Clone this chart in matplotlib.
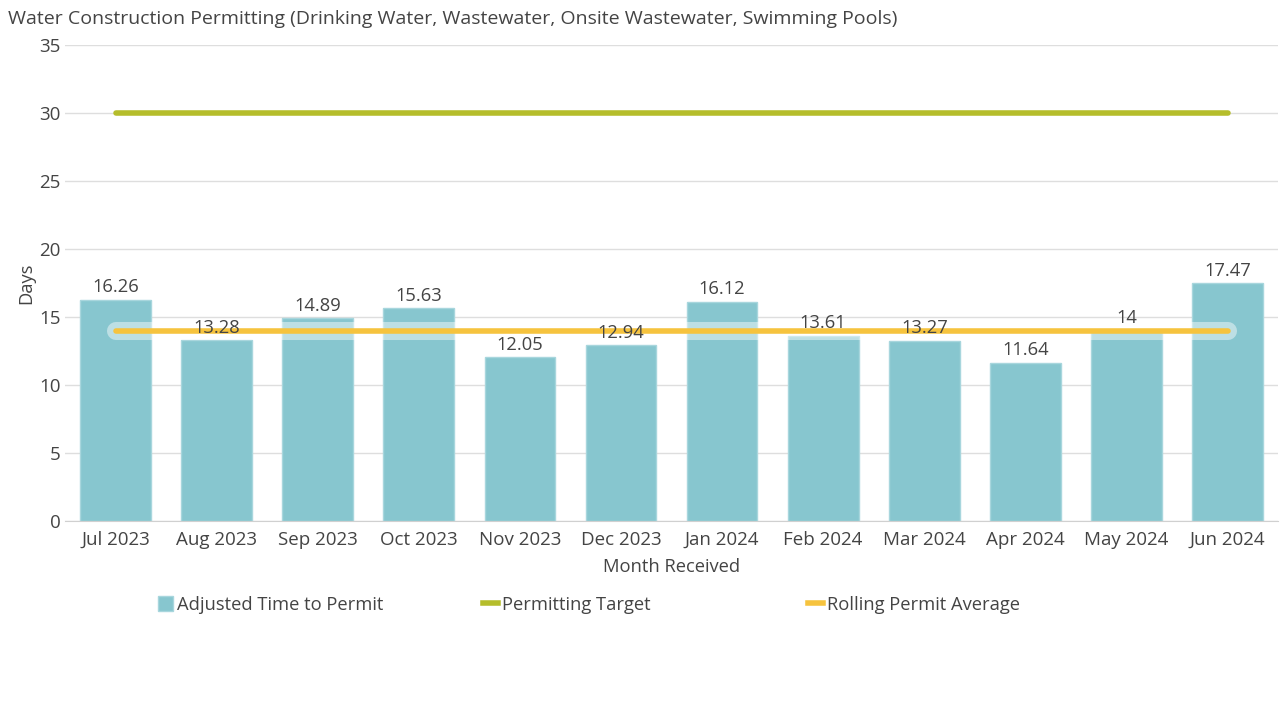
import matplotlib
matplotlib.use("Agg")
import matplotlib.pyplot as plt
from matplotlib.patches import Patch
from matplotlib.lines import Line2D
import matplotlib.patheffects as pe

plt.rcParams['font.family'] = ['Open Sans', 'DejaVu Sans']

months = ["Jul 2023", "Aug 2023", "Sep 2023", "Oct 2023", "Nov 2023", "Dec 2023",
          "Jan 2024", "Feb 2024", "Mar 2024", "Apr 2024", "May 2024", "Jun 2024"]
adjusted_time = [16.26, 13.28, 14.89, 15.63, 12.05, 12.94, 16.12, 13.61, 13.27, 11.64, 14, 17.47]
permitting_target = [30] * 12
rolling_average = [14] * 12
value_labels = ["16.26", "13.28", "14.89", "15.63", "12.05", "12.94", "16.12", "13.61",
                "13.27", "11.64", "14", "17.47"]

bar_color = "#87C6CF"
bar_edge = "#A8D6DD"
target_color = "#B5BD2B"
avg_color = "#F6C33E"
text_color = "#444444"

fig = plt.figure(figsize=(12.85, 7.01), dpi=100)
ax = fig.add_axes([0.0506, 0.2568, 0.9440, 0.6790])

x = list(range(len(months)))
ax.bar(x, adjusted_time, width=0.70, color=bar_color, edgecolor=bar_edge, linewidth=1.0, zorder=2)

ax.plot(x, permitting_target, color=target_color, linewidth=4, solid_capstyle='round', zorder=3)
ax.plot(x, rolling_average, color=avg_color, linewidth=4, solid_capstyle='round', zorder=4,
        path_effects=[pe.Stroke(linewidth=13, foreground='white', alpha=0.45), pe.Normal()])

for xi, v, lab in zip(x, adjusted_time, value_labels):
    ax.text(xi, v + 0.25, lab, ha='center', va='bottom', fontsize=13.2, color=text_color, zorder=5)

ax.set_xlim(-0.5, len(months) - 0.5)
ax.set_ylim(0, 35)
ax.set_yticks(range(0, 36, 5))
ax.set_xticks(x)
ax.set_xticklabels(months)
ax.tick_params(axis='both', length=0, labelsize=13.5, colors=text_color)
ax.tick_params(axis='x', pad=7)
ax.tick_params(axis='y', pad=3)
ax.grid(axis='y', color='#DEDEDE', linewidth=1, zorder=0)
ax.set_axisbelow(True)
for s in ['top', 'right', 'left']:
    ax.spines[s].set_visible(False)
ax.spines['bottom'].set_color('#D0D0D0')

ax.set_xlabel("Month Received", fontsize=13.2, color=text_color, labelpad=7)
ax.set_ylabel("Days", fontsize=13.2, color=text_color, labelpad=3)

fig.text(0.006, 0.973, "Water Construction Permitting (Drinking Water, Wastewater, Onsite Wastewater, Swimming Pools)",
         fontsize=14, color=text_color, ha='left', va='center')

legend_items = [
    (Patch(facecolor=bar_color, edgecolor=bar_edge), "Adjusted Time to Permit", 158),
    (Line2D([], [], color=target_color, linewidth=4), "Permitting Target", 483),
    (Line2D([], [], color=avg_color, linewidth=4), "Rolling Permit Average", 808),
]
for handle, label, px in legend_items:
    leg = fig.legend([handle], [label], loc='center left',
                     bbox_to_anchor=(px / 1285, 1 - 605 / 701),
                     frameon=False, fontsize=13.2, handlelength=0.8, handleheight=0.9,
                     handletextpad=0.25, borderaxespad=0, borderpad=0)
    for t in leg.get_texts():
        t.set_color(text_color)

fig.savefig("out.png", dpi=100)
